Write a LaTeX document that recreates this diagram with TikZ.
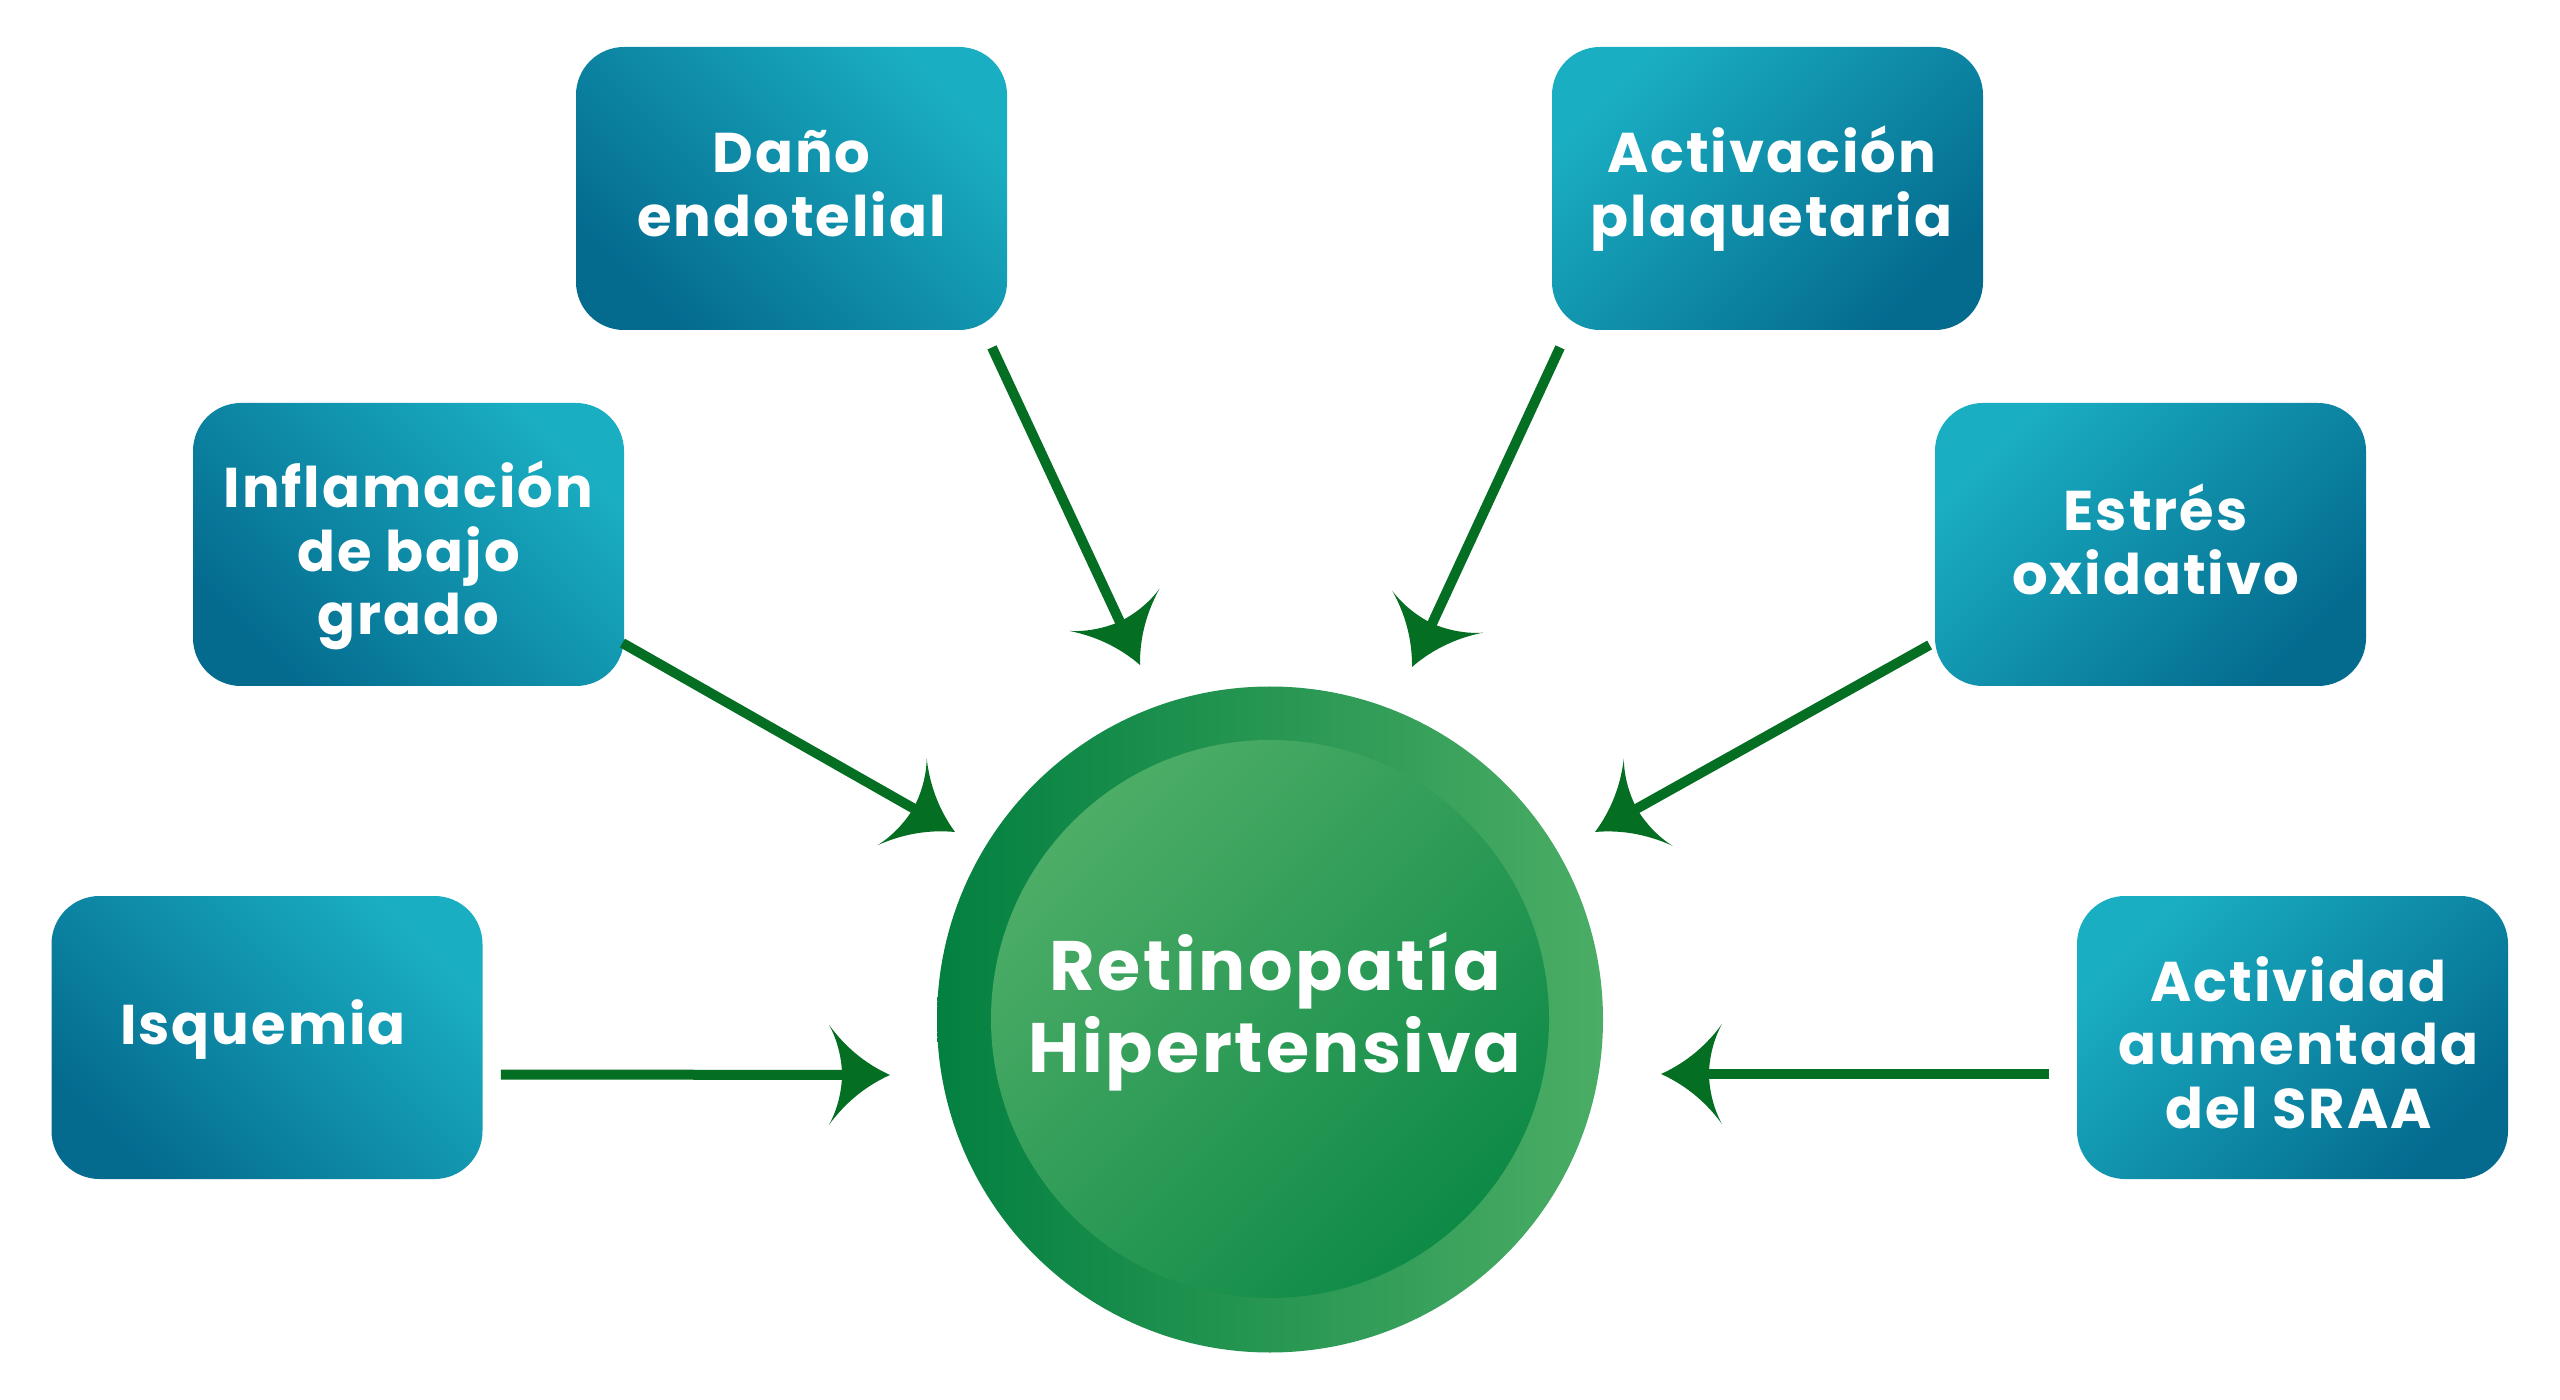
\documentclass[tikz,border=0pt]{standalone}
\usepackage{fontspec}
\setmainfont{Poppins}[LetterSpace=4]
\newfontfamily\boxfont{Poppins}[LetterSpace=3.5]
\usetikzlibrary{calc}
\definecolor{tealL}{HTML}{1AAEC2}
\definecolor{tealD}{HTML}{046B8F}
\definecolor{arrowG}{HTML}{046E22}
\definecolor{gDark}{HTML}{038040}
\definecolor{gLight}{HTML}{4BAD65}
\definecolor{gInL}{HTML}{4DAD67}
\definecolor{gInD}{HTML}{0E8A47}

\pgfdeclarearrow{
  name = Curvy,
  setup code = {
    \pgfarrowssettipend{0pt}
    \pgfarrowssetlineend{-22pt}
    \pgfarrowssetbackend{-30.5pt}
    \pgfarrowsupperhullpoint{-30.5pt}{25pt}
    \pgfarrowsupperhullpoint{0pt}{0pt}
  },
  drawing code = {
    \pgfpathmoveto{\pgfpointorigin}
    \pgfpathcurveto{\pgfpoint{-10pt}{4.5pt}}{\pgfpoint{-21pt}{12pt}}{\pgfpoint{-30.5pt}{25pt}}
    \pgfpathcurveto{\pgfpoint{-26pt}{17pt}}{\pgfpoint{-24pt}{7pt}}{\pgfpoint{-24pt}{0pt}}
    \pgfpathcurveto{\pgfpoint{-24pt}{-7pt}}{\pgfpoint{-26pt}{-17pt}}{\pgfpoint{-30.5pt}{-25pt}}
    \pgfpathcurveto{\pgfpoint{-21pt}{-12pt}}{\pgfpoint{-10pt}{-4.5pt}}{\pgfpointorigin}
    \pgfpathclose
    \pgfusepathqfill
  }
}

\begin{document}
\begin{tikzpicture}[x=0.5pt,y=-0.5pt,
  factor/.style={rounded corners=24pt, minimum width=215.5pt, minimum height=141.5pt,
    inner sep=0pt},
  factorL/.style={factor, top color=tealL, bottom color=tealD, shading angle=-45},
  factorR/.style={factor, top color=tealL, bottom color=tealD, shading angle=45},
  ftext/.style={text=white, align=center, inner sep=0pt,
    font=\boxfont\fontsize{28}{31.75}\selectfont\bfseries},
  arr/.style={draw=arrowG, line width=5pt, -Curvy}
]
\fill[white] (0,0) rectangle (2560,1400);
\useasboundingbox (0,0) rectangle (2560,1400);

% factor boxes
\node[factorL] (dano)   at (791.5,188.5)  {};
\node[factorR] (activ)  at (1767.5,188.5) {};
\node[factorL] (infl)   at (408.5,544.5)  {};
\node[factorR] (estres) at (2150.5,544.5) {};
\node[factorL] (isq)    at (267,1037.5)   {};
\node[factorR] (sraa)   at (2292.5,1037.5){};

\node[ftext] (danoT)   at ($(dano)+(0,-5)$)   {Daño\\endotelial};
\node[ftext] (activT)  at ($(activ)+(4,0)$)   {Activación\\plaquetaria};
\node[ftext] (inflT)   at ($(infl)+(0,11)$)   {Inflamación\\de bajo\\grado};
\node[ftext] (estresT) at ($(estres)+(5,-5)$) {Estrés\\oxidativo};
\node[ftext] (isqT)    at ($(isq)+(-4,-8)$)   {Isquemia};
\node[ftext] (sraaT)   at ($(sraa)+(6,5)$)    {Actividad\\aumentada\\del SRAA};

% central circle
\node[circle, minimum size=333pt, inner sep=0pt, left color=gDark, right color=gLight] (outer) at (1270,1019.5) {};
\node[circle, minimum size=279pt, inner sep=0pt, top color=gInL, bottom color=gInD, shading angle=45] (inner) at (1270,1019) {};
\node[text=white, align=center, font=\fontsize{35}{41}\selectfont\bfseries] (lbl) at (1275,1012) {Retinopatía\\Hipertensiva};

% arrow tips
\coordinate (tD) at (1140,665);
\coordinate (tA) at (1412,667);
\coordinate (tI) at (955,832);
\coordinate (tE) at (1595,832);
\coordinate (tQ) at (890,1075);
\coordinate (tS) at (1661,1074);

\draw[arr] ($(dano.south)+(200.5,17)$) -- (tD);
\draw[arr] ($(activ.south)+(-207.5,17)$) -- (tA);
\draw[arr] ($(infl.east)+(-2,98.5)$) -- (tI);
\draw[arr] ($(estres.west)+(-5,100.5)$) -- (tE);
\draw[arr] ($(isq.east)+(18,37)$) -- (tQ);
\draw[arr] ($(sraa.west)+(-28,36.5)$) -- (tS);
\end{tikzpicture}
\end{document}
